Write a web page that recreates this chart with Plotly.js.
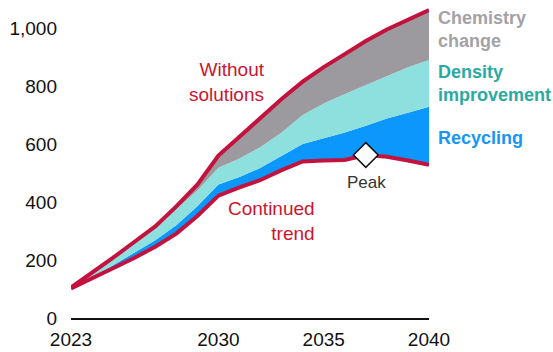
<!DOCTYPE html>
<html>
<head>
<meta charset="utf-8">
<script src="https://cdn.plot.ly/plotly-3.0.1.min.js"></script>
<style>
  html, body { margin: 0; padding: 0; background: #ffffff; }
  #chart { width: 553px; height: 352px; }
</style>
</head>
<body>
<div id="chart"></div>
<script>
// Demand pathways, 2023-2040
const years = [2023, 2024, 2025, 2026, 2027, 2028, 2029, 2030, 2031, 2032,
               2033, 2034, 2035, 2036, 2037, 2038, 2039, 2040];

// Scenario levels (each band sits between two neighbouring levels)
const continuedTrend   = [102, 137, 170, 207, 246, 291, 352, 422, 450, 476,
                          510, 540, 543, 545, 562, 556, 543, 528];
const withRecycling    = [103, 140, 182, 224, 268, 320, 385, 460, 486, 518,
                          560, 600, 620, 640, 663, 688, 708, 728];
const withDensity      = [104, 150, 203, 256, 311, 375, 440, 518, 550, 590,
                          640, 700, 740, 772, 803, 835, 865, 890];
const withoutSolutions = [105, 155, 208, 262, 316, 385, 460, 560, 625, 690,
                          755, 815, 865, 910, 955, 995, 1030, 1062];

const yTicks = [0, 200, 400, 600, 800, 1000];
const xTicks = [2023, 2030, 2035, 2040];

const RED = '#c3123e';
const FONT = 'Liberation Sans, Arial, sans-serif';

// Peak of the continued-trend path
let peakIdx = 0;
continuedTrend.forEach((v, i) => { if (v > continuedTrend[peakIdx]) peakIdx = i; });

function band(y, color) {
  return {
    x: years, y: y, mode: 'lines', fill: 'tonexty', fillcolor: color,
    line: { width: 0 }, hoverinfo: 'skip', showlegend: false
  };
}

const traces = [
  { x: years, y: continuedTrend, mode: 'lines', line: { width: 0 },
    hoverinfo: 'skip', showlegend: false },
  band(withRecycling, '#0b97fb'),
  band(withDensity, '#8ee0de'),
  band(withoutSolutions, '#9c9a9f'),
  { x: years, y: continuedTrend, mode: 'lines',
    line: { color: RED, width: 4 }, showlegend: false },
  { x: years, y: withoutSolutions, mode: 'lines',
    line: { color: RED, width: 4 }, showlegend: false },
  { x: [years[peakIdx]], y: [continuedTrend[peakIdx]], mode: 'markers',
    marker: { symbol: 'diamond', size: 19, color: '#ffffff',
              line: { color: '#111111', width: 1.5 } },
    cliponaxis: false, showlegend: false }
];

const annFont = (color, size, weight) => ({ family: FONT, size: size, color: color, weight: weight || 'normal' });

// Band labels sit just right of the plot area
const sideLabel = (text, y, color) => ({
  x: 1.02, y: y, xref: 'paper', yref: 'y', xanchor: 'left', yanchor: 'middle',
  align: 'left', showarrow: false, text: text, font: annFont(color, 18, 'bold')
});

const layout = {
  width: 553, height: 352,
  margin: { l: 71, r: 124, t: 0, b: 34 },
  paper_bgcolor: '#ffffff', plot_bgcolor: '#ffffff',
  showlegend: false,
  xaxis: {
    range: [2023, 2040], tickvals: xTicks, ticktext: xTicks.map(String),
    showgrid: false, zeroline: false, showline: true,
    linecolor: '#111111', linewidth: 1.5, ticks: '',
    tickfont: { family: FONT, size: 19, color: '#111111' },
    ticklabelstandoff: 4
  },
  yaxis: {
    range: [0, 1096.5], tickvals: yTicks, tickformat: ',d',
    showgrid: false, zeroline: false, showline: false, ticks: '',
    tickfont: { family: FONT, size: 19, color: '#111111' },
    ticklabelstandoff: 13
  },
  annotations: [
    { x: 2032.31, y: 815, xref: 'x', yref: 'y', xanchor: 'right', yanchor: 'middle',
      align: 'right', showarrow: false, text: 'Without<br>solutions',
      font: annFont('#cc1530', 19) },
    { x: 2034.68, y: 334, xref: 'x', yref: 'y', xanchor: 'right', yanchor: 'middle',
      align: 'right', showarrow: false, text: 'Continued<br>trend',
      font: annFont('#cc1530', 19) },
    { x: years[peakIdx] + 0.05, y: 466, xref: 'x', yref: 'y', xanchor: 'center', yanchor: 'middle',
      showarrow: false, text: 'Peak', font: annFont('#333333', 17) },
    sideLabel('Chemistry<br>change', 995, '#a2a2a7'),
    sideLabel('Density<br>improvement', 809, '#2aaaa2'),
    sideLabel('Recycling', 619, '#1796f3')
  ]
};

Plotly.newPlot('chart', traces, layout, { staticPlot: true, displayModeBar: false });
</script>
</body>
</html>
